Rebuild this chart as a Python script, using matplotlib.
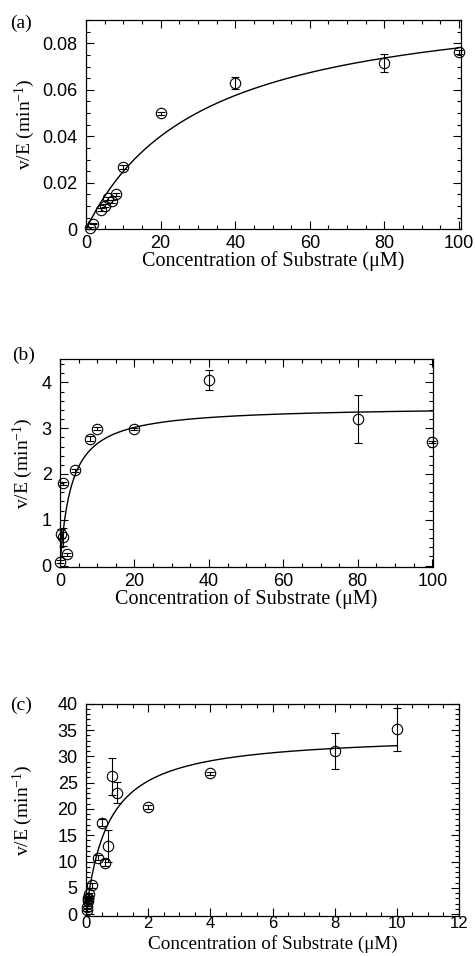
import numpy as np
import matplotlib
matplotlib.use("Agg")
import matplotlib.pyplot as plt
from matplotlib.ticker import MultipleLocator

# ---------------- data ----------------
# panel (a)
x_a = [1, 2, 4, 5, 6, 7, 8, 10, 20, 40, 80, 100]
y_a = [0.0005, 0.0024, 0.0085, 0.0102, 0.0133, 0.0120, 0.0150, 0.0267, 0.0498, 0.0630, 0.0715, 0.0762]
e_a = [0.0003, 0.0003, 0.0005, 0.0005, 0.0008, 0.0005, 0.0005, 0.0008, 0.0008, 0.0025, 0.0039, 0.0010]
fit_a = {"vmax": 0.1023, "km": 31.1, "xmax": 100}

# panel (b)
x_b = [0.1, 0.25, 0.7, 0.8, 2, 4, 8, 10, 20, 40, 80, 100]
y_b = [0.09, 0.70, 0.62, 1.80, 0.25, 2.08, 2.77, 2.99, 2.99, 4.05, 3.20, 2.69]
e_b = [0.03, 0.10, 0.20, 0.03, 0.03, 0.03, 0.05, 0.03, 0.02, 0.22, 0.52, 0.02]
fit_b = {"vmax": 3.48, "km": 3.07, "xmax": 100}

# panel (c)
x_c = [0.02, 0.03, 0.05, 0.06, 0.08, 0.1, 0.2, 0.4, 0.5, 0.6, 0.7, 0.84, 1.0, 2, 4, 8, 10]
y_c = [0.8, 1.3, 2.5, 3.0, 2.8, 3.8, 5.5, 10.7, 17.4, 9.8, 12.9, 26.2, 23.1, 20.4, 26.8, 31.0, 35.1]
e_c = [0.3, 0.3, 0.3, 0.3, 0.3, 0.3, 0.5, 0.5, 0.6, 0.7, 3.0, 3.55, 2.0, 0.4, 0.3, 3.5, 4.1]
fit_c = {"vmax": 34.3, "km": 0.71, "xmax": 10}

panel_labels = ["(a)", "(b)", "(c)"]
xlabel = "Concentration of Substrate (\u03bcM)"
ylabel = "v/E (min$^{\\mathregular{-1}}$)"

# ---------------- style ----------------
SANS = "Liberation Sans"
SERIF = "Liberation Serif"
plt.rcParams["mathtext.fontset"] = "custom"
plt.rcParams["mathtext.rm"] = SERIF
plt.rcParams["mathtext.it"] = SERIF + ":italic"

fig = plt.figure(figsize=(4.75, 9.56), dpi=100)

specs = [
    dict(rect=[86/475, 1-229.3/956, 374.7/475, 209.3/956], x=x_a, y=y_a, e=e_a, fit=fit_a,
         xlim=(0, 100.45), ylim=(0, 0.09), xmaj=20, xmin=5, ymaj=0.02, ymin=0.005,
         yfmt=lambda v: "0" if abs(v) < 1e-12 else f"{v:.2f}", lab=(10/475, 1-23/956),
         xlc=-0.103, ylc=-0.131, xpad=4, xls=13, xfs=14.5),
    dict(rect=[60/475, 1-567/956, 373/475, 208/956], x=x_b, y=y_b, e=e_b, fit=fit_b,
         xlim=(0, 100.2), ylim=(-0.03, 4.51), xmaj=20, xmin=5, ymaj=1, ymin=0.2,
         yfmt=lambda v: f"{v:.0f}", lab=(12/475, 1-355/956),
         xlc=-0.104, ylc=-0.067, xpad=4, xls=13, xfs=14.5),
    dict(rect=[86/475, 1-915.7/956, 373/475, 212/956], x=x_c, y=y_c, e=e_c, fit=fit_c,
         xlim=(0, 12), ylim=(-0.3, 40), xmaj=2, xmin=0.5, ymaj=5, ymin=1,
         yfmt=lambda v: f"{v:.0f}", lab=(10/475, 1-705/956),
         xlc=-0.0905, ylc=-0.137, xpad=0.3, xls=12, xfs=13.8),
]

for s, lab in zip(specs, panel_labels):
    ax = fig.add_axes(s["rect"])
    f = s["fit"]
    xf = np.linspace(0, f["xmax"], 400)
    ax.plot(xf, f["vmax"] * xf / (f["km"] + xf), color="black", lw=1.0, zorder=2)
    ax.errorbar(s["x"], s["y"], yerr=s["e"], fmt="o", mfc="none", mec="black",
                ms=7.5, mew=0.8, ecolor="black", elinewidth=0.8, capsize=3,
                capthick=0.8, zorder=3, clip_on=False)
    ax.set_xlim(*s["xlim"])
    ax.set_ylim(*s["ylim"])
    ax.xaxis.set_major_locator(MultipleLocator(s["xmaj"]))
    ax.xaxis.set_minor_locator(MultipleLocator(s["xmin"]))
    ax.yaxis.set_major_locator(MultipleLocator(s["ymaj"]))
    ax.yaxis.set_minor_locator(MultipleLocator(s["ymin"]))
    fmt = s["yfmt"]
    ax.yaxis.set_major_formatter(plt.FuncFormatter(lambda v, p, fmt=fmt: fmt(v)))
    ax.xaxis.set_major_formatter(plt.FuncFormatter(lambda v, p: f"{v:g}"))
    ax.tick_params(which="both", direction="in", top=True, right=True, width=0.8)
    ax.tick_params(which="major", length=6)
    ax.tick_params(which="minor", length=3)
    ax.tick_params(axis="y", pad=6, labelsize=13)
    ax.tick_params(axis="x", pad=s["xpad"], labelsize=s["xls"])
    for t in ax.get_xticklabels() + ax.get_yticklabels():
        t.set_fontfamily(SANS)
    for sp in ax.spines.values():
        sp.set_linewidth(0.9)
    ax.set_xlabel(xlabel, fontsize=s["xfs"], family=SERIF)
    ax.set_ylabel(ylabel, fontsize=14, family=SERIF)
    ax.xaxis.set_label_coords(0.5, s["xlc"])
    ax.yaxis.set_label_coords(s["ylc"], 0.5)
    fig.text(s["lab"][0], s["lab"][1], lab, fontsize=14, family=SERIF,
             ha="left", va="center")

fig.savefig("out.png", dpi=100)
